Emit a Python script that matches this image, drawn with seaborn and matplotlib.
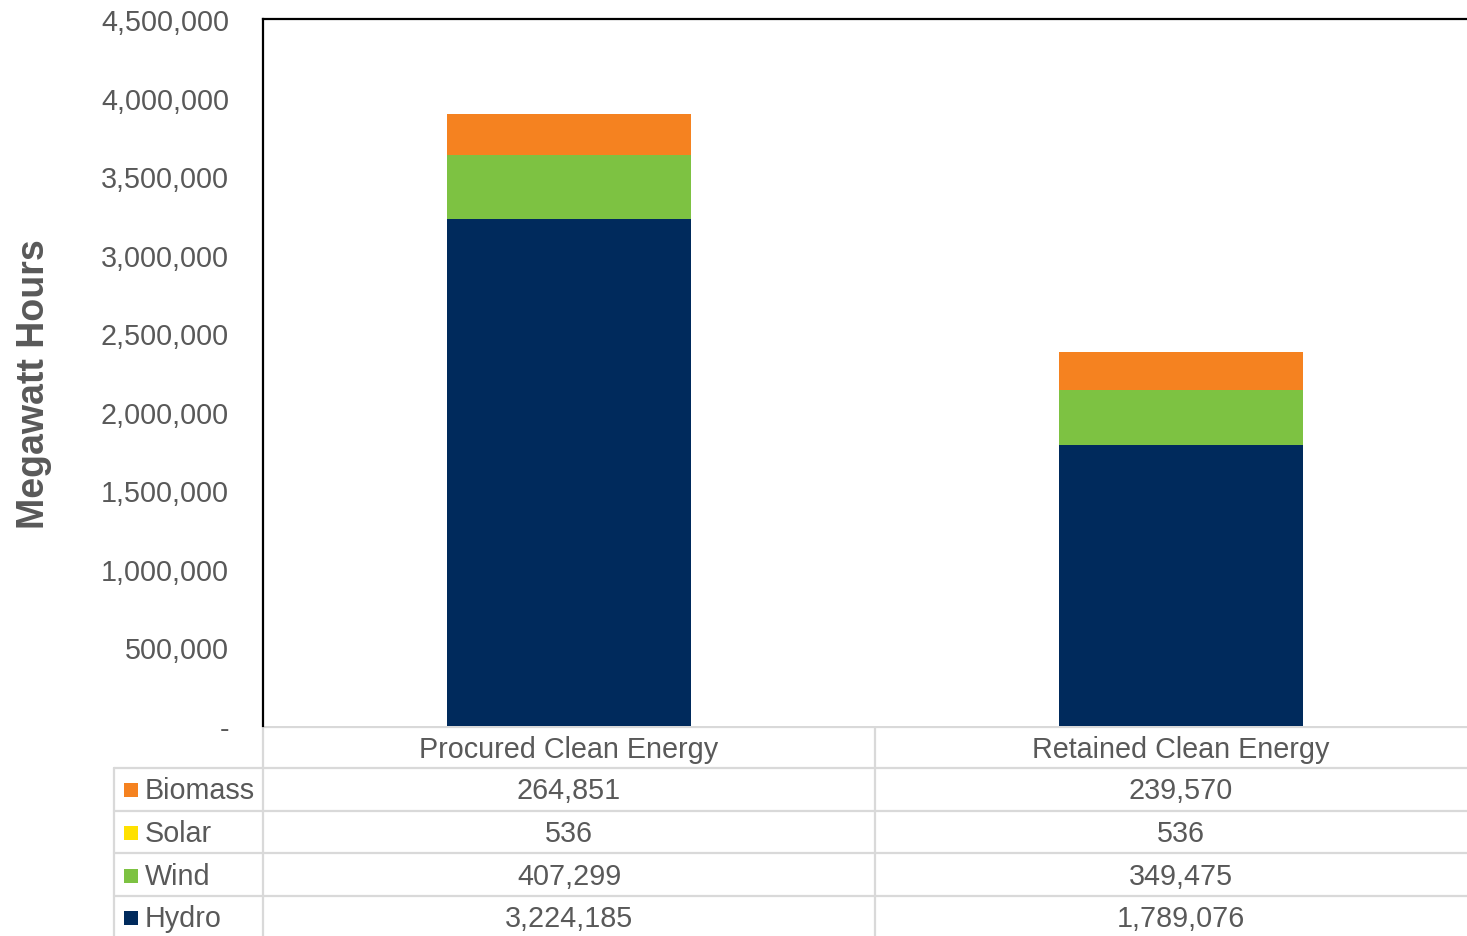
import numpy as np
import pandas as pd
import matplotlib
matplotlib.use("Agg")
import matplotlib.pyplot as plt
import matplotlib.transforms as mtransforms
from matplotlib.patches import Rectangle
from matplotlib.ticker import FuncFormatter
import seaborn as sns

# ---- data ----
categories = ["Procured Clean Energy", "Retained Clean Energy"]
hydro = [3224185, 1789076]
wind = [407299, 349475]
solar = [536, 536]
biomass = [264851, 239570]
series_names = ["Biomass", "Solar", "Wind", "Hydro"]  # table order (top to bottom)
series_values = {"Biomass": biomass, "Solar": solar, "Wind": wind, "Hydro": hydro}
colors = {"Hydro": "#002A5C", "Wind": "#7DC242", "Solar": "#FFE100", "Biomass": "#F58220"}
y_ticks = np.arange(0, 4500001, 500000)

W, H = 1467, 937
sns.set_theme(style="white")
plt.rcParams["font.family"] = ["Liberation Sans", "DejaVu Sans"]
TXT = "#595959"
GRID = "#D9D9D9"
FS = 20.7

fig = plt.figure(figsize=(W / 100, H / 100), dpi=100)
AX_L, AX_R = 263, 1487
ax = fig.add_axes([AX_L / W, 1 - 727 / H, (AX_R - AX_L) / W, (727 - 20) / H])

# stacked bars: draw cumulative totals from top layer down
stack_order = ["Hydro", "Wind", "Solar", "Biomass"]
cum = np.zeros(len(categories))
cums = {}
for name in stack_order:
    cum = cum + np.array(series_values[name])
    cums[name] = cum.copy()
for name in reversed(stack_order):
    df = pd.DataFrame({"cat": categories, "val": cums[name]})
    sns.barplot(data=df, x="cat", y="val", color=colors[name], width=0.4,
                saturation=1, linewidth=0, ax=ax, zorder=2)

ax.set_xlim(-0.5, 1.5)
ax.set_ylim(0, 4500000)
ax.set_yticks(y_ticks)
ax.yaxis.set_major_formatter(FuncFormatter(lambda v, p: "-" if v == 0 else f"{int(v):,}"))
ax.tick_params(axis="y", length=0, pad=24.5, labelsize=FS, labelcolor=TXT)
ax.set_xticks([])
ax.set_xlabel("")
ax.set_ylabel("Megawatt Hours", fontsize=27, fontweight="bold", color=TXT)
ax.yaxis.set_label_coords((52 - AX_L) / (AX_R - AX_L), 1 - (384 - 20) / 707)
for s in ["left", "top"]:
    ax.spines[s].set_color("black")
    ax.spines[s].set_linewidth(1.6)
ax.spines["right"].set_visible(False)
ax.spines["bottom"].set_visible(False)
ax.grid(False)

# ---- data table ----
tax = fig.add_axes([0, 0, 1, 1], zorder=-1)
tax.set_xlim(0, W)
tax.set_ylim(H, 0)
tax.axis("off")
trans = mtransforms.blended_transform_factory(ax.transData, tax.transData)

lw = 1.6
header_top, header_bot = 728, 769
row_h = 42.7
row_edges = [header_bot + i * row_h for i in range(len(series_names) + 1)]

# horizontal lines
tax.plot([263, W], [header_top, header_top], color=GRID, lw=lw)
for yy in row_edges[:-1]:
    tax.plot([114, W], [yy, yy], color=GRID, lw=lw)
# vertical lines
tax.plot([114, 114], [header_bot, H + 5], color=GRID, lw=lw)
for b in [-0.5, 0.5]:
    tax.plot([b, b], [header_top, H + 5], color=GRID, lw=lw, transform=trans)

# header
for j, c in enumerate(categories):
    tax.text(j, (header_top + header_bot) / 2 + 1.5, c, transform=trans, ha="center",
             va="center", fontsize=FS, color=TXT)

for i, name in enumerate(series_names):
    yc = (row_edges[i] + row_edges[i + 1]) / 2 + 1
    tax.add_patch(Rectangle((124, yc - 7), 14, 14, color=colors[name], lw=0))
    tax.text(145, yc, name, ha="left", va="center", fontsize=FS, color=TXT)
    for j, v in enumerate(series_values[name]):
        tax.text(j, yc, f"{v:,}", transform=trans, ha="center", va="center",
                 fontsize=FS, color=TXT)

fig.savefig("out.png", dpi=100)
